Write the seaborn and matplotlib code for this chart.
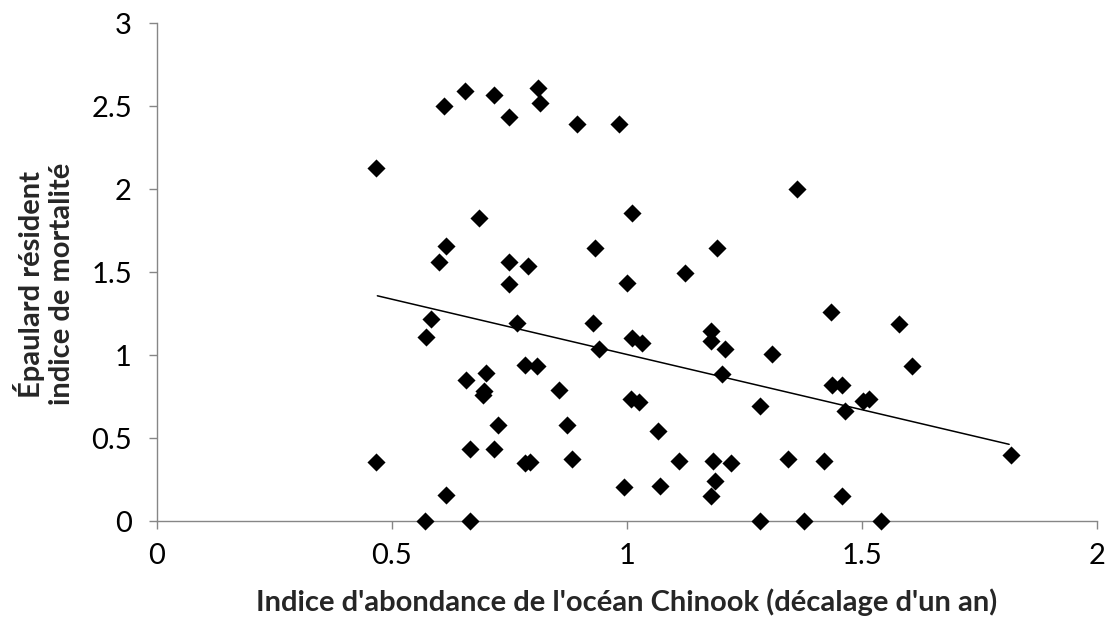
import matplotlib
matplotlib.use("Agg")
import matplotlib.pyplot as plt
import seaborn as sns
import pandas as pd

x_vals = [0.467, 0.611, 0.655, 0.717, 0.811, 0.814, 0.750, 0.893, 0.982, 0.685,
          1.011, 0.614, 0.600, 0.932, 0.750, 0.790, 0.750, 0.999, 1.123, 1.361,
          1.191, 0.584, 0.572, 0.767, 0.928, 0.941, 1.010, 1.033, 0.783, 0.809,
          0.700, 0.657, 0.696, 0.694, 0.855, 1.008, 1.026, 0.726, 0.873, 1.067,
          0.667, 0.717, 0.784, 0.794, 0.884, 1.111, 0.467, 0.614, 0.994, 1.070,
          0.570, 0.667, 1.435, 1.579, 1.179, 1.178, 1.209, 1.308, 1.607, 1.202,
          1.437, 1.458, 1.503, 1.514, 1.284, 1.464, 1.184, 1.222, 1.343, 1.419,
          1.817, 1.187, 1.179, 1.458, 1.283, 1.377, 1.540]
y_vals = [2.125, 2.500, 2.590, 2.566, 2.610, 2.520, 2.432, 2.390, 2.390, 1.824,
          1.854, 1.657, 1.562, 1.647, 1.558, 1.538, 1.426, 1.432, 1.492, 1.998,
          1.648, 1.215, 1.110, 1.191, 1.191, 1.036, 1.100, 1.070, 0.940, 0.936,
          0.890, 0.849, 0.785, 0.759, 0.789, 0.733, 0.719, 0.580, 0.580, 0.544,
          0.432, 0.432, 0.351, 0.357, 0.371, 0.363, 0.357, 0.157, 0.207, 0.213,
          0.000, 0.000, 1.261, 1.189, 1.146, 1.084, 1.036, 1.006, 0.936, 0.886,
          0.819, 0.819, 0.725, 0.735, 0.695, 0.663, 0.361, 0.347, 0.371, 0.361,
          0.398, 0.241, 0.151, 0.153, 0.000, 0.000, 0.000]

trend_x = [0.469, 1.813]
trend_y = [1.357, 0.462]

x_ticks = [0, 0.5, 1, 1.5, 2]
x_tick_labels = ["0", "0.5", "1", "1.5", "2"]
y_ticks = [0, 0.5, 1, 1.5, 2, 2.5, 3]
y_tick_labels = ["0", "0.5", "1", "1.5", "2", "2.5", "3"]

x_label = "Indice d'abondance de l'océan Chinook (décalage d'un an)"
y_label = "Épaulard résident\nindice de mortalité"

sns.set_theme(style="white")
plt.rcParams['font.family'] = ['Lato', 'DejaVu Sans']

df = pd.DataFrame({"x": x_vals, "y": y_vals})
tdf = pd.DataFrame({"x": trend_x, "y": trend_y})

fig = plt.figure(figsize=(11.05, 6.25), dpi=100)
ax = fig.add_axes([0.142, 0.1664, 0.8508, 0.7966])

sns.lineplot(data=tdf, x="x", y="y", ax=ax, color="black", linewidth=1.1, zorder=2)
sns.scatterplot(data=df, x="x", y="y", ax=ax, marker="D", s=85, color="black",
                linewidth=0, zorder=3, clip_on=False)

ax.set_xlim(0, 2)
ax.set_ylim(0, 3)
ax.set_xticks(x_ticks)
ax.set_xticklabels(x_tick_labels)
ax.set_yticks(y_ticks)
ax.set_yticklabels(y_tick_labels)

for s in ["top", "right"]:
    ax.spines[s].set_visible(False)
for s in ["left", "bottom"]:
    ax.spines[s].set_color("#868686")
    ax.spines[s].set_linewidth(1.0)

ax.tick_params(axis="both", which="major", direction="out", length=6, width=1,
               color="#868686", labelsize=21, labelcolor="black",
               left=True, bottom=True)
ax.tick_params(axis="y", pad=12)
ax.tick_params(axis="x", pad=10)

ax.set_xlabel(x_label, fontsize=21, fontweight="bold", labelpad=14)
ax.set_ylabel(y_label, fontsize=21, fontweight="bold", linespacing=1.2)
ax.yaxis.set_label_coords(-0.087, 0.476)

fig.savefig("out.png", dpi=100)
